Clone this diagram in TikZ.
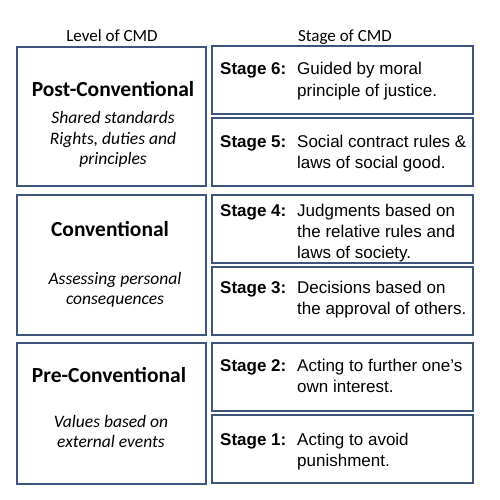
\documentclass[tikz,border=0pt]{standalone}
\usepackage{fontspec}
\setmainfont{Liberation Sans}
\newfontfamily\calfont{Carlito}
\usetikzlibrary{shadows}
\definecolor{bordc}{RGB}{62,84,122}
\tikzset{
  box/.style={draw=bordc, line width=2.2pt, fill=white, inner sep=0pt,
    drop shadow={opacity=0.25, shadow xshift=1.2pt, shadow yshift=-1.2pt}},
  lvlbox/.style={box, minimum width=189pt},
  stgbox/.style={box, minimum width=261pt, minimum height=68pt},
  head/.style={font=\calfont\fontsize{17}{20}\selectfont, anchor=base, inner sep=0pt},
  ltitle/.style={font=\calfont\bfseries\fontsize{21.5}{24}\selectfont, anchor=base, inner sep=0pt},
  ldesc/.style={font=\calfont\itshape\fontsize{17.5}{20}\selectfont, anchor=base, inner sep=0pt},
  stxt/.style={font=\fontsize{17}{21}\selectfont, anchor=base west, inner sep=0pt},
}
\newcommand{\stg}[3]{\begin{tabular}[t]{@{}p{77pt}@{}l@{}}\textbf{Stage #1:} & #2\\ & #3\end{tabular}}
\begin{document}
\begin{tikzpicture}[x=1pt,y=-1pt]
\useasboundingbox (0,0) rectangle (500,500);
\fill[white] (0,0) rectangle (500,500);
% headers
\node[head] (hl) at (112,42) {Level of CMD};
\node[head] (hs) at (345,42) {Stage of CMD};
% level boxes
\node[lvlbox, minimum height=139pt] (post) at (111.5,116.5) {};
\node[lvlbox, minimum height=140pt] (conv) at (111.5,265) {};
\node[lvlbox, minimum height=141pt] (pre) at (111.5,413.5) {};
% stage boxes
\node[stgbox] (s6) at (342.5,80) {};
\node[stgbox] (s5) at (342.5,152) {};
\node[stgbox] (s4) at (342.5,229) {};
\node[stgbox] (s3) at (342.5,301) {};
\node[stgbox] (s2) at (342.5,377) {};
\node[stgbox] (s1) at (342.5,449) {};
% level texts
\node[ltitle] (postt) at (113,97) {Post-Conventional};
\node[ldesc] (postd1) at (113,124) {Shared standards};
\node[ldesc] (postd2) at (113,144) {Rights, duties and};
\node[ldesc] (postd3) at (113,164) {principles};
\node[ltitle] (convt) at (110,236) {Conventional};
\node[ldesc] (convd1) at (115,284) {Assessing personal};
\node[ldesc] (convd2) at (115,304) {consequences};
\node[ltitle] (pret) at (109,382) {Pre-Conventional};
\node[ldesc] (pred1) at (111,427) {Values based on};
\node[ldesc] (pred2) at (111,447) {external events};
% stage texts
\node[stxt] (t6) at (220,75) {\stg{6}{Guided by moral}{principle of justice.}};
\node[stxt] (t5) at (220,147) {\stg{5}{Social contract rules \&}{laws of social good.}};
\node[stxt] (t4) at (220,216) {\begin{tabular}[t]{@{}p{77pt}@{}l@{}}\textbf{Stage 4:} & Judgments based on\\ & the relative rules and\\ & laws of society.\end{tabular}};
\node[stxt] (t3) at (220,293) {\stg{3}{Decisions based on}{the approval of others.}};
\node[stxt] (t2) at (220,371) {\stg{2}{Acting to further one's}{own interest.}};
\node[stxt] (t1) at (220,445) {\stg{1}{Acting to avoid}{punishment.}};
\end{tikzpicture}
\end{document}
